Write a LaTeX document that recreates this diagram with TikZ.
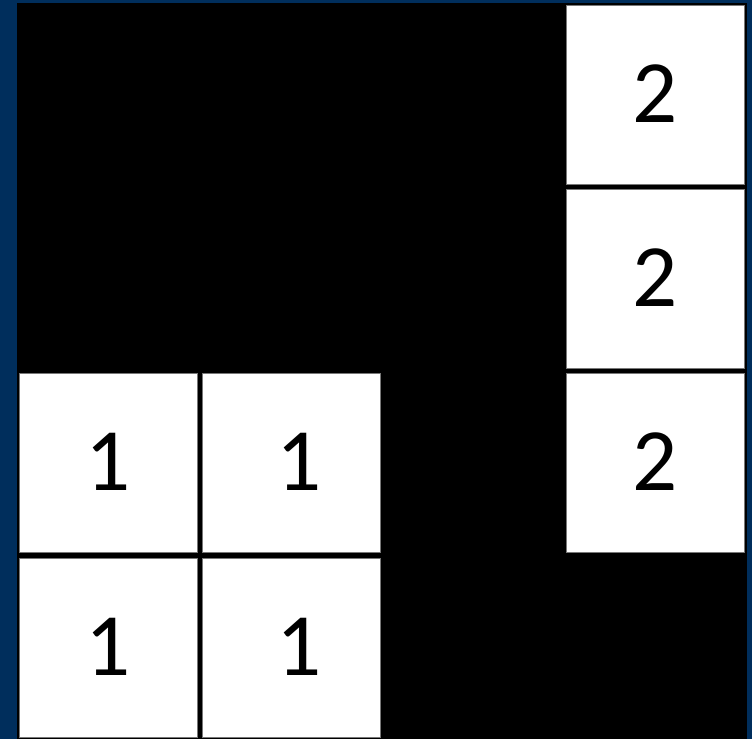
\documentclass[tikz,border=0pt]{standalone}
\usepackage{fontspec}
\setmainfont{Carlito}
\definecolor{frameblue}{RGB}{0,46,92}
\definecolor{cellgray}{RGB}{120,120,120}
\begin{document}
\begin{tikzpicture}[x=1pt,y=-1pt,
  cell/.style={draw=cellgray, line width=1pt, fill=white,
    minimum width=178pt, minimum height=179pt, inner sep=0pt,
    font=\fontsize{89}{89}\selectfont}]
\useasboundingbox (0,0) rectangle (752,739);
\fill[frameblue] (0,0) rectangle (752,739);
\fill[black] (17,3) rectangle (747,739);
\node[cell] (r1) at (655.5,94.5) {\raisebox{2pt}{2}};
\node[cell] (r2) at (655.5,279) {\raisebox{2pt}{2}};
\node[cell] (r3) at (655.5,463) {\raisebox{2pt}{2}};
\node[cell] (a) at (108.5,463) {\raisebox{2pt}{1}};
\node[cell] (b) at (291,463) {\kern16pt\raisebox{2pt}{1}};
\node[cell] (c) at (108.5,647.5) {\raisebox{2pt}{1}};
\node[cell] (d) at (291,647.5) {\kern16pt\raisebox{2pt}{1}};
\end{tikzpicture}
\end{document}
